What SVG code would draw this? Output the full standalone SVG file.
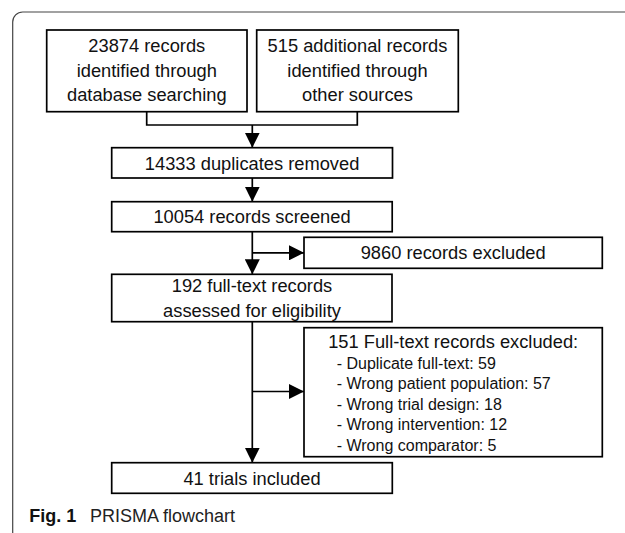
<svg xmlns="http://www.w3.org/2000/svg" width="625" height="533" viewBox="0 0 625 533">
<defs>
<style>
.box{fill:#fff;stroke:#000;stroke-width:1.7}
.t{font-family:"Liberation Sans",Arial,sans-serif;font-size:18.3px;fill:#111;text-anchor:middle}
.s{font-family:"Liberation Sans",Arial,sans-serif;font-size:16px;fill:#111}
.c{fill:none;stroke:#000;stroke-width:1.7}
.frame{fill:none;stroke:#444;stroke-width:1.2}
.cap{font-family:"Liberation Sans",Arial,sans-serif;font-size:18px;fill:#222}
</style>
<marker id="ah" markerUnits="userSpaceOnUse" markerWidth="15" markerHeight="15" refX="15" refY="7.5" orient="auto">
<path d="M0,0 L15,7.5 L0,15 Z" fill="#000"/>
</marker>
</defs>
<rect width="625" height="533" fill="#fff"/>
<path class="frame" d="M12.7,533 V22 A10,10 0 0 1 22.7,12 H625"/>
<g id="connectors">
<path class="c" d="M146.7,111.7 V125 H357.3 V111.7"/>
<path class="c" d="M252.3,125 V147.7" marker-end="url(#ah)"/>
<path class="c" d="M252.3,178 V201.7" marker-end="url(#ah)"/>
<path class="c" d="M252.3,231.7 V274.3" marker-end="url(#ah)"/>
<path class="c" d="M252.3,252.8 H304" marker-end="url(#ah)"/>
<path class="c" d="M252.3,321.7 V462.7" marker-end="url(#ah)"/>
<path class="c" d="M252.3,391.5 H304" marker-end="url(#ah)"/>
</g>
<g id="n1">
<rect class="box" x="46.7" y="30" width="200.3" height="81.7"/>
<text class="t" x="146.8" y="52.3">23874 records</text>
<text class="t" x="146.8" y="76.5">identified through</text>
<text class="t" x="146.8" y="100.7">database searching</text>
</g>
<g id="n2">
<rect class="box" x="256.7" y="30" width="201.6" height="81.7"/>
<text class="t" x="357.5" y="52.3">515 additional records</text>
<text class="t" x="357.5" y="76.5">identified through</text>
<text class="t" x="357.5" y="100.7">other sources</text>
</g>
<g id="n3">
<rect class="box" x="111.7" y="147.7" width="280.8" height="30.3"/>
<text class="t" x="252.1" y="169.5">14333 duplicates removed</text>
</g>
<g id="n4">
<rect class="box" x="111.7" y="201.7" width="280.5" height="30"/>
<text class="t" x="252" y="223.3">10054 records screened</text>
</g>
<g id="n5">
<rect class="box" x="304" y="237.3" width="298.3" height="31"/>
<text class="t" x="453.2" y="259.3">9860 records excluded</text>
</g>
<g id="n6">
<rect class="box" x="111.7" y="274.3" width="280.3" height="47.4"/>
<text class="t" x="252" y="292.3">192 full-text records</text>
<text class="t" x="252" y="316.9">assessed for eligibility</text>
</g>
<g id="n7">
<rect class="box" x="304" y="327.7" width="298.3" height="129"/>
<text class="t" x="453.2" y="347.7">151 Full-text records excluded:</text>
<text class="s" x="336.7" y="368.5">- Duplicate full-text: 59</text>
<text class="s" x="336.7" y="389">- Wrong patient population: 57</text>
<text class="s" x="336.7" y="409.5">- Wrong trial design: 18</text>
<text class="s" x="336.7" y="430">- Wrong intervention: 12</text>
<text class="s" x="336.7" y="450.5">- Wrong comparator: 5</text>
</g>
<g id="n8">
<rect class="box" x="111.7" y="462.7" width="280.6" height="30.6"/>
<text class="t" x="252" y="485">41 trials included</text>
</g>
<g id="caption">
<text class="cap" x="29.3" y="521.7"><tspan font-weight="bold" fill="#111">Fig. 1</tspan><tspan x="90">PRISMA flowchart</tspan></text>
</g>
</svg>
